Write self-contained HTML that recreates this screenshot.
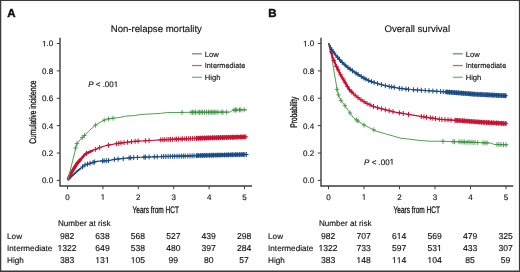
<!DOCTYPE html><html><head><meta charset="utf-8"><style>html,body{margin:0;padding:0;background:#fff}svg{display:block;will-change:transform}text{font-family:"Liberation Sans",sans-serif;fill:#111111;text-rendering:geometricPrecision;stroke:#111111;stroke-width:0.14px}</style></head><body>
<svg width="520" height="272" viewBox="0 0 520 272">
<rect width="520" height="272" fill="#fff"/>
<text x="7.3" y="17.0" font-size="11.5" font-weight="bold" style="stroke-width:0.45px">A</text>
<text x="156.3" y="31.7" font-size="9.6" text-anchor="middle" >Non-relapse mortality</text>
<path d="M60 37.7 V186 H252" fill="none" stroke="#3c3c3c" stroke-width="1.4"/>
<text x="42.08" y="183.3" font-size="8">0.0</text>
<text x="42.08" y="155.92" font-size="8">0.2</text>
<text x="42.08" y="128.54" font-size="8">0.4</text>
<text x="42.08" y="101.16" font-size="8">0.6</text>
<text x="42.08" y="73.78" font-size="8">0.8</text>
<text x="42.08" y="46.4" font-size="8"> .0</text>
<path transform="matrix(0.00391 0 0 -0.00391 42.08 46.4)" d="M515 0V1237L197 1010V1180L530 1409H696V0Z" fill="#111111" stroke="#111111" stroke-width="35.84"/>
<text x="65.28" y="199.8" font-size="8">0</text>
<text x="100.68" y="199.8" font-size="8"> </text>
<path transform="matrix(0.00391 0 0 -0.00391 100.68 199.8)" d="M515 0V1237L197 1010V1180L530 1409H696V0Z" fill="#111111" stroke="#111111" stroke-width="35.84"/>
<text x="136.08" y="199.8" font-size="8">2</text>
<text x="171.48" y="199.8" font-size="8">3</text>
<text x="206.88" y="199.8" font-size="8">4</text>
<text x="242.28" y="199.8" font-size="8">5</text>
<path d="M56.8 180.4H60M56.8 153.02H60M56.8 125.64H60M56.8 98.26H60M56.8 70.88H60M56.8 43.5H60M67.5 186V189.2M102.9 186V189.2M138.3 186V189.2M173.7 186V189.2M209.1 186V189.2M244.5 186V189.2" stroke="#3c3c3c" stroke-width="1"/>
<text x="132.5" y="212.7" font-size="9.6" textLength="46.5" lengthAdjust="spacingAndGlyphs" style="stroke-width:0.3px">Years from HCT</text>
<text transform="translate(36.45 112.2) rotate(-90)" x="0" y="0" font-size="9.6" text-anchor="middle" textLength="63.3" lengthAdjust="spacingAndGlyphs" style="stroke-width:0.3px">Cumulative incidence</text>
<path d="M192 53.8H201.8" stroke="#7383a0" stroke-width="1.3"/>
<text x="204.8" y="56.5" font-size="7.6" text-anchor="start" >Low</text>
<path d="M192 65.55H201.8" stroke="#c46878" stroke-width="1.3"/>
<text x="204.8" y="68.25" font-size="7.6" text-anchor="start" textLength="40.5" lengthAdjust="spacingAndGlyphs">Intermediate</text>
<path d="M192 77.3H201.8" stroke="#80b080" stroke-width="1.3"/>
<text x="204.8" y="80" font-size="7.6" text-anchor="start" >High</text>
<text x="88.2" y="87" font-size="8"><tspan font-style="italic">P</tspan> &lt; .00 </text>
<path transform="matrix(0.00391 0 0 -0.00391 113.77 87)" d="M515 0V1237L197 1010V1180L530 1409H696V0Z" fill="#111111" stroke="#111111" stroke-width="35.84"/>
<path d="M67.8 180.2 L71.5 176.3 L76.5 171.8 L80.25 168.7 L85 164.9 L90.9 163.1 L96.8 161.3 L102.6 160.9 L108.5 160.6 L114.4 159.4 L121.8 158.7 L129.1 157.9 L135 157.5 L160 156.6 L190 155.9 L200 155.5 L245.7 154.5" fill="none" stroke="#184a84" stroke-width="1.2" stroke-linejoin="round"/>
<path d="M69 178.94 L71.5 176.3 L76.5 171.8 L80 168.91" fill="none" stroke="#184a84" stroke-width="1.8" stroke-linejoin="round" stroke-linecap="round" opacity="1"/>
<path d="M196 155.66 L200 155.5 L245.5 154.5" fill="none" stroke="#184a84" stroke-width="4.2" stroke-linejoin="round" stroke-linecap="butt" opacity="0.85"/>
<path d="M82.5 164.4v5M80.3 166.9h4.4M85 162.4v5M82.8 164.9h4.4M87.5 161.64v5M85.3 164.14h4.4M90.1 160.84v5M87.9 163.34h4.4M93.1 159.93v5M90.9 162.43h4.4M94.6 159.47v5M92.4 161.97h4.4M102.6 158.4v5M100.4 160.9h4.4M104.1 158.32v5M101.9 160.82h4.4M106.3 158.21v5M104.1 160.71h4.4M108.5 158.1v5M106.3 160.6h4.4M114.4 156.9v5M112.2 159.4h4.4M118.1 156.55v5M115.9 159.05h4.4M123.2 156.05v5M121 158.55h4.4M129.1 155.4v5M126.9 157.9h4.4M130.7 155.29v5M128.5 157.79h4.4M133.7 155.09v5M131.5 157.59h4.4M137.4 154.91v5M135.2 157.41h4.4M144 154.68v5M141.8 157.18h4.4M145.4 154.63v5M143.2 157.13h4.4M149.1 154.49v5M146.9 156.99h4.4M154.3 154.31v5M152.1 156.81h4.4M157.2 154.2v5M155 156.7h4.4M161.6 154.06v5M159.4 156.56h4.4M163.7 154.01v5M161.5 156.51h4.4M165.84 153.96v5M163.64 156.46h4.4M168.14 153.91v5M165.94 156.41h4.4M170.31 153.86v5M168.11 156.36h4.4M172.66 153.8v5M170.46 156.3h4.4M174.69 153.76v5M172.49 156.26h4.4M177.01 153.7v5M174.81 156.2h4.4M179.13 153.65v5M176.93 156.15h4.4M181.37 153.6v5M179.17 156.1h4.4M183.34 153.56v5M181.14 156.06h4.4M185.2 153.51v5M183 156.01h4.4M187.79 153.45v5M185.59 155.95h4.4M190.01 153.4v5M187.81 155.9h4.4M192.14 153.31v5M189.94 155.81h4.4M194.1 153.24v5M191.9 155.74h4.4M196.35 153.15v5M194.15 155.65h4.4M198.22 153.07v5M196.02 155.57h4.4M200.75 152.98v5M198.55 155.48h4.4M202.76 152.94v5M200.56 155.44h4.4M204.75 152.9v5M202.55 155.4h4.4M206.78 152.85v5M204.58 155.35h4.4M209.42 152.79v5M207.22 155.29h4.4M211.67 152.74v5M209.47 155.24h4.4M213.29 152.71v5M211.09 155.21h4.4M215.88 152.65v5M213.68 155.15h4.4M217.81 152.61v5M215.61 155.11h4.4M219.82 152.57v5M217.62 155.07h4.4M222.07 152.52v5M219.87 155.02h4.4M224.52 152.46v5M222.32 154.96h4.4M226.75 152.41v5M224.55 154.91h4.4M228.41 152.38v5M226.21 154.88h4.4M230.92 152.32v5M228.72 154.82h4.4M232.74 152.28v5M230.54 154.78h4.4M235.31 152.23v5M233.11 154.73h4.4M237.24 152.19v5M235.04 154.69h4.4M239.74 152.13v5M237.54 154.63h4.4M241.96 152.08v5M239.76 154.58h4.4M243.84 152.04v5M241.64 154.54h4.4M246.3 152v5M244.1 154.5h4.4" stroke="#184a84" stroke-width="1.0" fill="none"/>
<path d="M67.8 180.2 L70.9 173.3 L76.8 163.8 L82.6 157.2 L85 154.2 L90.9 151.3 L96.8 148.8 L102.6 146.5 L108.5 145.1 L114.4 144 L121.8 142.9 L129.1 142 L135 141.3 L150 140.5 L160.9 139.8 L190 138.6 L200 138.2 L245.7 136.9" fill="none" stroke="#c8102e" stroke-width="1.2" stroke-linejoin="round"/>
<path d="M68.5 178.64 L70.9 173.3 L76.8 163.8 L80 160.16" fill="none" stroke="#c8102e" stroke-width="3.4" stroke-linejoin="round" stroke-linecap="round" opacity="1"/>
<path d="M80 160.16 L82.6 157.2 L85 154.2 L90.9 151.3 L92 150.83" fill="none" stroke="#c8102e" stroke-width="2.6" stroke-linejoin="round" stroke-linecap="round" opacity="1"/>
<path d="M196 138.36 L200 138.2 L245.5 136.91" fill="none" stroke="#c8102e" stroke-width="4.2" stroke-linejoin="round" stroke-linecap="butt" opacity="0.85"/>
<path d="M86.5 150.96v5M84.3 153.46h4.4M95.3 146.94v5M93.1 149.44h4.4M99.7 145.15v5M97.5 147.65h4.4M108.5 142.6v5M106.3 145.1h4.4M116.6 141.17v5M114.4 143.67h4.4M118.8 140.85v5M116.6 143.35h4.4M121 140.52v5M118.8 143.02h4.4M124 140.13v5M121.8 142.63h4.4M127.6 139.68v5M125.4 142.18h4.4M131.5 139.22v5M129.3 141.72h4.4M135.1 138.79v5M132.9 141.29h4.4M138.1 138.63v5M135.9 141.13h4.4M145.4 138.25v5M143.2 140.75h4.4M149.1 138.05v5M146.9 140.55h4.4M160.74 137.31v5M158.54 139.81h4.4M162.91 137.22v5M160.71 139.72h4.4M164.78 137.14v5M162.58 139.64h4.4M166.9 137.05v5M164.7 139.55h4.4M168.89 136.97v5M166.69 139.47h4.4M170.53 136.9v5M168.33 139.4h4.4M172.48 136.82v5M170.28 139.32h4.4M174.96 136.72v5M172.76 139.22h4.4M176.59 136.65v5M174.39 139.15h4.4M178.55 136.57v5M176.35 139.07h4.4M180.99 136.47v5M178.79 138.97h4.4M182.65 136.4v5M180.45 138.9h4.4M184.85 136.31v5M182.65 138.81h4.4M186.61 136.24v5M184.41 138.74h4.4M188.69 136.15v5M186.49 138.65h4.4M190.38 136.08v5M188.18 138.58h4.4M192.65 135.99v5M190.45 138.49h4.4M194.77 135.91v5M192.57 138.41h4.4M196.54 135.84v5M194.34 138.34h4.4M198.65 135.75v5M196.45 138.25h4.4M200.58 135.68v5M198.38 138.18h4.4M202.2 135.64v5M200 138.14h4.4M204.59 135.57v5M202.39 138.07h4.4M206.47 135.52v5M204.27 138.02h4.4M208.28 135.46v5M206.08 137.96h4.4M210.1 135.41v5M207.9 137.91h4.4M212.58 135.34v5M210.38 137.84h4.4M214.32 135.29v5M212.12 137.79h4.4M216.45 135.23v5M214.25 137.73h4.4M218.52 135.17v5M216.32 137.67h4.4M220.4 135.12v5M218.2 137.62h4.4M222.5 135.06v5M220.3 137.56h4.4M224.17 135.01v5M221.97 137.51h4.4M226.39 134.95v5M224.19 137.45h4.4M228.16 134.9v5M225.96 137.4h4.4M230.43 134.83v5M228.23 137.33h4.4M232.37 134.78v5M230.17 137.28h4.4M233.88 134.74v5M231.68 137.24h4.4M235.89 134.68v5M233.69 137.18h4.4M237.91 134.62v5M235.71 137.12h4.4M240.34 134.55v5M238.14 137.05h4.4M242 134.51v5M239.8 137.01h4.4M244.1 134.45v5M241.9 136.95h4.4M245.88 134.4v5M243.68 136.9h4.4" stroke="#c8102e" stroke-width="1.0" fill="none"/>
<path d="M67.8 180.2 L74.8 152 L75.6 148 L77 143.6 L80.7 139.2 L84.4 135.5 L89.5 130.4 L95.4 125.2 L101.3 121.6 L105.7 119.4 L110 118.6 L116 117.9 L120 117.4 L125.4 116.1 L134.8 115.6 L140.2 114.5 L160.4 113.4 L167.1 112.6 L190 112.3 L230 112.1 L233 110 L247 109.8" fill="none" stroke="#50a350" stroke-width="1.0" stroke-linejoin="round"/>
<path d="M75.6 145.5v5M73.4 148h4.4M77 141.1v5M74.8 143.6h4.4M82.2 135.2v5M80 137.7h4.4M84.4 133v5M82.2 135.5h4.4M95.4 122.7v5M93.2 125.2h4.4M104.2 117.65v5M102 120.15h4.4M108.6 116.36v5M106.4 118.86h4.4M113 115.75v5M110.8 118.25h4.4M182 109.9v5M179.8 112.4h4.4M191 109.8v5M188.8 112.3h4.4M192.5 109.79v5M190.3 112.29h4.4M194 109.78v5M191.8 112.28h4.4M195.5 109.77v5M193.3 112.27h4.4M198 109.76v5M195.8 112.26h4.4M199.5 109.75v5M197.3 112.25h4.4M201 109.74v5M198.8 112.24h4.4M202.5 109.74v5M200.3 112.24h4.4M204.5 109.73v5M202.3 112.23h4.4M206.5 109.72v5M204.3 112.22h4.4M208.5 109.71v5M206.3 112.21h4.4M210 109.7v5M207.8 112.2h4.4M211.5 109.69v5M209.3 112.19h4.4M213 109.69v5M210.8 112.19h4.4M214.5 109.68v5M212.3 112.18h4.4M216 109.67v5M213.8 112.17h4.4M218 109.66v5M215.8 112.16h4.4M221.3 109.64v5M219.1 112.14h4.4M223 109.63v5M220.8 112.13h4.4M226.7 109.62v5M224.5 112.12h4.4M234 107.49v5M231.8 109.99h4.4M235.5 107.46v5M233.3 109.96h4.4M236.8 107.45v5M234.6 109.95h4.4M239.5 107.41v5M237.3 109.91h4.4M240.9 107.39v5M238.7 109.89h4.4M244.2 107.34v5M242 109.84h4.4" stroke="#3f9043" stroke-width="0.85" fill="none"/>
<text x="57.9" y="225.9" font-size="8.1" text-anchor="start" >Number at risk</text>
<text x="7.1" y="238.9" font-size="8.15" text-anchor="start" >Low</text>
<text x="59.93" y="238.9" font-size="8.6">982</text>
<text x="95.33" y="238.9" font-size="8.6">638</text>
<text x="130.73" y="238.9" font-size="8.6">568</text>
<text x="166.13" y="238.9" font-size="8.6">527</text>
<text x="201.53" y="238.9" font-size="8.6">439</text>
<text x="236.93" y="238.9" font-size="8.6">298</text>
<text x="7.1" y="251" font-size="8.15" text-anchor="start" >Intermediate</text>
<text x="57.53" y="251" font-size="8.6"> 322</text>
<path transform="matrix(0.0042 0 0 -0.0042 57.53 251)" d="M515 0V1237L197 1010V1180L530 1409H696V0Z" fill="#111111" stroke="#111111" stroke-width="33.34"/>
<text x="95.33" y="251" font-size="8.6">649</text>
<text x="130.73" y="251" font-size="8.6">538</text>
<text x="166.13" y="251" font-size="8.6">480</text>
<text x="201.53" y="251" font-size="8.6">397</text>
<text x="236.93" y="251" font-size="8.6">284</text>
<text x="7.1" y="263.1" font-size="8.15" text-anchor="start" >High</text>
<text x="59.93" y="263.1" font-size="8.6">383</text>
<text x="95.33" y="263.1" font-size="8.6"> 3 </text>
<path transform="matrix(0.0042 0 0 -0.0042 95.33 263.1)" d="M515 0V1237L197 1010V1180L530 1409H696V0Z" fill="#111111" stroke="#111111" stroke-width="33.34"/>
<path transform="matrix(0.0042 0 0 -0.0042 104.89 263.1)" d="M515 0V1237L197 1010V1180L530 1409H696V0Z" fill="#111111" stroke="#111111" stroke-width="33.34"/>
<text x="130.73" y="263.1" font-size="8.6"> 05</text>
<path transform="matrix(0.0042 0 0 -0.0042 130.73 263.1)" d="M515 0V1237L197 1010V1180L530 1409H696V0Z" fill="#111111" stroke="#111111" stroke-width="33.34"/>
<text x="168.52" y="263.1" font-size="8.6">99</text>
<text x="203.92" y="263.1" font-size="8.6">80</text>
<text x="239.32" y="263.1" font-size="8.6">57</text>
<text x="268.3" y="17.0" font-size="11.5" font-weight="bold" style="stroke-width:0.45px">B</text>
<text x="417.3" y="31.7" font-size="9.6" text-anchor="middle" >Overall survival</text>
<path d="M321 37.7 V186 H513.3" fill="none" stroke="#3c3c3c" stroke-width="1.4"/>
<text x="303.08" y="183.3" font-size="8">0.0</text>
<text x="303.08" y="155.92" font-size="8">0.2</text>
<text x="303.08" y="128.54" font-size="8">0.4</text>
<text x="303.08" y="101.16" font-size="8">0.6</text>
<text x="303.08" y="73.78" font-size="8">0.8</text>
<text x="303.08" y="46.4" font-size="8"> .0</text>
<path transform="matrix(0.00391 0 0 -0.00391 303.08 46.4)" d="M515 0V1237L197 1010V1180L530 1409H696V0Z" fill="#111111" stroke="#111111" stroke-width="35.84"/>
<text x="326.28" y="199.8" font-size="8">0</text>
<text x="361.78" y="199.8" font-size="8"> </text>
<path transform="matrix(0.00391 0 0 -0.00391 361.78 199.8)" d="M515 0V1237L197 1010V1180L530 1409H696V0Z" fill="#111111" stroke="#111111" stroke-width="35.84"/>
<text x="397.28" y="199.8" font-size="8">2</text>
<text x="432.78" y="199.8" font-size="8">3</text>
<text x="468.28" y="199.8" font-size="8">4</text>
<text x="503.78" y="199.8" font-size="8">5</text>
<path d="M317.8 180.4H321M317.8 153.02H321M317.8 125.64H321M317.8 98.26H321M317.8 70.88H321M317.8 43.5H321M328.5 186V189.2M364 186V189.2M399.5 186V189.2M435 186V189.2M470.5 186V189.2M506 186V189.2" stroke="#3c3c3c" stroke-width="1"/>
<text x="393.5" y="212.7" font-size="9.6" textLength="46.5" lengthAdjust="spacingAndGlyphs" style="stroke-width:0.3px">Years from HCT</text>
<text transform="translate(297.45 112.2) rotate(-90)" x="0" y="0" font-size="9.6" text-anchor="middle" textLength="31" lengthAdjust="spacingAndGlyphs" style="stroke-width:0.3px">Probability</text>
<path d="M452.9 53.8H462.7" stroke="#7383a0" stroke-width="1.3"/>
<text x="465.7" y="56.5" font-size="7.6" text-anchor="start" >Low</text>
<path d="M452.9 65.55H462.7" stroke="#c46878" stroke-width="1.3"/>
<text x="465.7" y="68.25" font-size="7.6" text-anchor="start" textLength="40.5" lengthAdjust="spacingAndGlyphs">Intermediate</text>
<path d="M452.9 77.3H462.7" stroke="#80b080" stroke-width="1.3"/>
<text x="465.7" y="80" font-size="7.6" text-anchor="start" >High</text>
<text x="364.1" y="164.6" font-size="8"><tspan font-style="italic">P</tspan> &lt; .00 </text>
<path transform="matrix(0.00391 0 0 -0.00391 389.67 164.6)" d="M515 0V1237L197 1010V1180L530 1409H696V0Z" fill="#111111" stroke="#111111" stroke-width="35.84"/>
<path d="M328.6 43.1 L331 52 L334.1 72 L336.4 85 L337.4 92.4 L341 100.6 L344.7 105.2 L348.4 110.7 L353 117.2 L357.6 120.8 L363 124.5 L368.6 127.3 L374 130 L376 131.1 L385.4 133.8 L400.8 138.2 L410 139.2 L416 140 L428.5 141.2 L443 141.3 L470 142.2 L491 143.1 L494 144.4 L507.7 144.8" fill="none" stroke="#50a350" stroke-width="1.0" stroke-linejoin="round"/>
<path d="M337 86.94v5M334.8 89.44h4.4M338.5 92.41v5M336.3 94.91h4.4M341 98.1v5M338.8 100.6h4.4M345 103.15v5M342.8 105.65h4.4M350 110.46v5M347.8 112.96h4.4M356.4 117.36v5M354.2 119.86h4.4M358 118.57v5M355.8 121.07h4.4M364 122.5v5M361.8 125h4.4M373.8 127.4v5M371.6 129.9h4.4M443 138.8v5M440.8 141.3h4.4M453 139.13v5M450.8 141.63h4.4M454.6 139.19v5M452.4 141.69h4.4M459 139.33v5M456.8 141.83h4.4M461 139.4v5M458.8 141.9h4.4M463 139.47v5M460.8 141.97h4.4M464.6 139.52v5M462.4 142.02h4.4M467 139.6v5M464.8 142.1h4.4M469 139.67v5M466.8 142.17h4.4M471 139.74v5M468.8 142.24h4.4M473 139.83v5M470.8 142.33h4.4M475 139.91v5M472.8 142.41h4.4M477.7 140.03v5M475.5 142.53h4.4M483 140.26v5M480.8 142.76h4.4M485 140.34v5M482.8 142.84h4.4M487 140.43v5M484.8 142.93h4.4M497 141.99v5M494.8 144.49h4.4M499 142.05v5M496.8 144.55h4.4M501 142.1v5M498.8 144.6h4.4M503.5 142.18v5M501.3 144.68h4.4M506 142.25v5M503.8 144.75h4.4" stroke="#3f9043" stroke-width="0.85" fill="none"/>
<path d="M328.6 43.1 L330.2 48.3 L332.6 57.4 L336.3 66.2 L340.7 75 L345.1 82.4 L348.8 89 L353.9 94.2 L359.4 98.8 L366.8 103.4 L374 106.7 L380 108.4 L395 112.2 L410 114.6 L422 116.6 L440 119.3 L460 120.6 L480 122.1 L506.8 123.6" fill="none" stroke="#c8102e" stroke-width="1.2" stroke-linejoin="round"/>
<path d="M329.5 46.02 L330.2 48.3 L332.6 57.4 L336.3 66.2 L340.7 75 L345.1 82.4 L348.8 89 L353 93.28" fill="none" stroke="#c8102e" stroke-width="2.0" stroke-linejoin="round" stroke-linecap="round" opacity="1"/>
<path d="M455 120.27 L460 120.6 L480 122.1 L506.5 123.58" fill="none" stroke="#c8102e" stroke-width="4.4" stroke-linejoin="round" stroke-linecap="butt" opacity="0.85"/>
<path d="M331.15 49.4v5M328.95 51.9h4.4M333.92 58.04v5M331.72 60.54h4.4M336.43 63.95v5M334.23 66.45h4.4M338.13 67.37v5M335.93 69.87h4.4M340.58 72.25v5M338.38 74.75h4.4M342.96 76.31v5M340.76 78.81h4.4M345.02 79.77v5M342.82 82.27h4.4M347.34 83.89v5M345.14 86.39h4.4M349.57 87.29v5M347.37 89.79h4.4M351.9 89.66v5M349.7 92.16h4.4M355 92.62v5M352.8 95.12h4.4M358 95.13v5M355.8 97.63h4.4M361 97.29v5M358.8 99.79h4.4M364 99.16v5M361.8 101.66h4.4M367 100.99v5M364.8 103.49h4.4M370 102.37v5M367.8 104.87h4.4M373.5 103.97v5M371.3 106.47h4.4M377.6 105.22v5M375.4 107.72h4.4M381.4 106.25v5M379.2 108.75h4.4M385.3 107.24v5M383.1 109.74h4.4M389.2 108.23v5M387 110.73h4.4M393 109.19v5M390.8 111.69h4.4M399.4 110.4v5M397.2 112.9h4.4M403.3 111.03v5M401.1 113.53h4.4M408.5 111.86v5M406.3 114.36h4.4M421.3 113.98v5M419.1 116.48h4.4M423.9 114.38v5M421.7 116.88h4.4M426.5 114.77v5M424.3 117.27h4.4M430.3 115.34v5M428.1 117.84h4.4M432.9 115.73v5M430.7 118.23h4.4M435.5 116.12v5M433.3 118.62h4.4M439.3 116.69v5M437.1 119.19h4.4M441.9 116.92v5M439.7 119.42h4.4M445 117.12v5M442.8 119.62h4.4M448 117.32v5M445.8 119.82h4.4M451 117.52v5M448.8 120.02h4.4M455.08 117.78v5M452.88 120.28h4.4M457.27 117.92v5M455.07 120.42h4.4M459.76 118.08v5M457.56 120.58h4.4M462.5 118.29v5M460.3 120.79h4.4M464.34 118.43v5M462.14 120.93h4.4M467.2 118.64v5M465 121.14h4.4M469.76 118.83v5M467.56 121.33h4.4M471.85 118.99v5M469.65 121.49h4.4M474.21 119.17v5M472.01 121.67h4.4M477.1 119.38v5M474.9 121.88h4.4M479.08 119.53v5M476.88 122.03h4.4M481.46 119.68v5M479.26 122.18h4.4M484.09 119.83v5M481.89 122.33h4.4M486.73 119.98v5M484.53 122.48h4.4M488.68 120.09v5M486.48 122.59h4.4M491.29 120.23v5M489.09 122.73h4.4M493.72 120.37v5M491.52 122.87h4.4M496.55 120.53v5M494.35 123.03h4.4M498.67 120.64v5M496.47 123.14h4.4M501.43 120.8v5M499.23 123.3h4.4M503.31 120.9v5M501.11 123.4h4.4M505.87 121.05v5M503.67 123.55h4.4" stroke="#c8102e" stroke-width="1.0" fill="none"/>
<path d="M328.6 43.1 L331.9 50 L336.3 55.9 L342.2 62.5 L348 67.6 L355.4 72.8 L363.5 77.9 L369.4 80.9 L376.8 83.3 L384.1 85.4 L390 86.6 L400 88.4 L410 89.5 L425 90.5 L450 92.2 L475 94.2 L506.8 95.8" fill="none" stroke="#184a84" stroke-width="1.2" stroke-linejoin="round"/>
<path d="M329.5 44.98 L331.9 50 L336.3 55.9 L342.2 62.5 L348 67.6 L355.4 72.8 L363.5 77.9 L369.4 80.9 L374 82.39" fill="none" stroke="#184a84" stroke-width="1.6" stroke-linejoin="round" stroke-linecap="round" opacity="1"/>
<path d="M445 91.86 L450 92.2 L475 94.2 L506.5 95.78" fill="none" stroke="#184a84" stroke-width="4.4" stroke-linejoin="round" stroke-linecap="butt" opacity="0.85"/>
<path d="M331.81 47.31v5M329.61 49.81h4.4M334.2 50.59v5M332 53.09h4.4M337.35 54.57v5M335.15 57.07h4.4M339.41 56.87v5M337.21 59.37h4.4M342.2 60v5M340 62.5h4.4M345.03 62.49v5M342.83 64.99h4.4M347.86 64.98v5M345.66 67.48h4.4M350.03 66.53v5M347.83 69.03h4.4M352.54 68.29v5M350.34 70.79h4.4M355.99 70.67v5M353.79 73.17h4.4M358.06 71.98v5M355.86 74.48h4.4M361.33 74.04v5M359.13 76.54h4.4M363.9 75.6v5M361.7 78.1h4.4M366 76.67v5M363.8 79.17h4.4M368.71 78.05v5M366.51 80.55h4.4M371.4 79.05v5M369.2 81.55h4.4M374.14 79.94v5M371.94 82.44h4.4M377.6 81.03v5M375.4 83.53h4.4M381.4 82.12v5M379.2 84.62h4.4M385.3 83.14v5M383.1 85.64h4.4M389.2 83.94v5M387 86.44h4.4M391.7 84.41v5M389.5 86.91h4.4M394.3 84.87v5M392.1 87.37h4.4M399.4 85.79v5M397.2 88.29h4.4M402 86.12v5M399.8 88.62h4.4M405.9 86.55v5M403.7 89.05h4.4M408.5 86.84v5M406.3 89.34h4.4M413.6 87.24v5M411.4 89.74h4.4M417.5 87.5v5M415.3 90h4.4M421.3 87.75v5M419.1 90.25h4.4M425.2 88.01v5M423 90.51h4.4M429 88.27v5M426.8 90.77h4.4M432.9 88.54v5M430.7 91.04h4.4M436.8 88.8v5M434.6 91.3h4.4M440.6 89.06v5M438.4 91.56h4.4M443.2 89.24v5M441 91.74h4.4M447.08 89.5v5M444.88 92h4.4M449.41 89.66v5M447.21 92.16h4.4M451.82 89.85v5M449.62 92.35h4.4M454.43 90.05v5M452.23 92.55h4.4M456.45 90.22v5M454.25 92.72h4.4M458.74 90.4v5M456.54 92.9h4.4M461.34 90.61v5M459.14 93.11h4.4M463.31 90.76v5M461.11 93.26h4.4M465.72 90.96v5M463.52 93.46h4.4M468.62 91.19v5M466.42 93.69h4.4M470.62 91.35v5M468.42 93.85h4.4M473 91.54v5M470.8 94.04h4.4M474.93 91.69v5M472.73 94.19h4.4M477.61 91.83v5M475.41 94.33h4.4M480.1 91.96v5M477.9 94.46h4.4M482.02 92.05v5M479.82 94.55h4.4M484.85 92.2v5M482.65 94.7h4.4M487.23 92.32v5M485.03 94.82h4.4M489.13 92.41v5M486.93 94.91h4.4M491.94 92.55v5M489.74 95.05h4.4M494.17 92.66v5M491.97 95.16h4.4M496.7 92.79v5M494.5 95.29h4.4M498.8 92.9v5M496.6 95.4h4.4M501.45 93.03v5M499.25 95.53h4.4M503.83 93.15v5M501.63 95.65h4.4M505.62 93.24v5M503.42 95.74h4.4" stroke="#184a84" stroke-width="1.0" fill="none"/>
<text x="318.9" y="225.9" font-size="8.1" text-anchor="start" >Number at risk</text>
<text x="268.1" y="238.9" font-size="8.15" text-anchor="start" >Low</text>
<text x="320.93" y="238.9" font-size="8.6">982</text>
<text x="356.43" y="238.9" font-size="8.6">707</text>
<text x="391.93" y="238.9" font-size="8.6">6 4</text>
<path transform="matrix(0.0042 0 0 -0.0042 396.71 238.9)" d="M515 0V1237L197 1010V1180L530 1409H696V0Z" fill="#111111" stroke="#111111" stroke-width="33.34"/>
<text x="427.43" y="238.9" font-size="8.6">569</text>
<text x="462.93" y="238.9" font-size="8.6">479</text>
<text x="498.43" y="238.9" font-size="8.6">325</text>
<text x="268.1" y="251" font-size="8.15" text-anchor="start" >Intermediate</text>
<text x="318.53" y="251" font-size="8.6"> 322</text>
<path transform="matrix(0.0042 0 0 -0.0042 318.53 251)" d="M515 0V1237L197 1010V1180L530 1409H696V0Z" fill="#111111" stroke="#111111" stroke-width="33.34"/>
<text x="356.43" y="251" font-size="8.6">733</text>
<text x="391.93" y="251" font-size="8.6">597</text>
<text x="427.43" y="251" font-size="8.6">53 </text>
<path transform="matrix(0.0042 0 0 -0.0042 436.99 251)" d="M515 0V1237L197 1010V1180L530 1409H696V0Z" fill="#111111" stroke="#111111" stroke-width="33.34"/>
<text x="462.93" y="251" font-size="8.6">433</text>
<text x="498.43" y="251" font-size="8.6">307</text>
<text x="268.1" y="263.1" font-size="8.15" text-anchor="start" >High</text>
<text x="320.93" y="263.1" font-size="8.6">383</text>
<text x="356.43" y="263.1" font-size="8.6"> 48</text>
<path transform="matrix(0.0042 0 0 -0.0042 356.43 263.1)" d="M515 0V1237L197 1010V1180L530 1409H696V0Z" fill="#111111" stroke="#111111" stroke-width="33.34"/>
<text x="391.93" y="263.1" font-size="8.6">  4</text>
<path transform="matrix(0.0042 0 0 -0.0042 391.93 263.1)" d="M515 0V1237L197 1010V1180L530 1409H696V0Z" fill="#111111" stroke="#111111" stroke-width="33.34"/>
<path transform="matrix(0.0042 0 0 -0.0042 396.71 263.1)" d="M515 0V1237L197 1010V1180L530 1409H696V0Z" fill="#111111" stroke="#111111" stroke-width="33.34"/>
<text x="427.43" y="263.1" font-size="8.6"> 04</text>
<path transform="matrix(0.0042 0 0 -0.0042 427.43 263.1)" d="M515 0V1237L197 1010V1180L530 1409H696V0Z" fill="#111111" stroke="#111111" stroke-width="33.34"/>
<text x="465.32" y="263.1" font-size="8.6">85</text>
<text x="500.82" y="263.1" font-size="8.6">59</text>
<path d="M515.3 0V272" stroke="#f9f9f9" stroke-width="2.6"/><path d="M0 2.4H520" stroke="#f7f7f7" stroke-width="1.6"/>
<path d="M0 0H520V1H0Z M0 0H1.25V272H0Z M518.9 0H520V272H518.9Z M0 270.4H520V272H0Z" fill="#3a3a3a"/>
</svg></body></html>
